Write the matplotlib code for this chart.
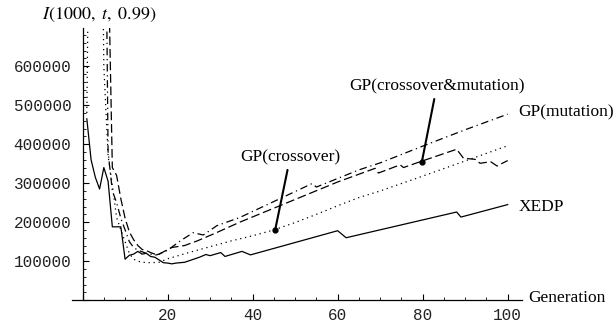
import matplotlib
matplotlib.use("Agg")
import matplotlib.pyplot as plt
from matplotlib.ticker import MultipleLocator, FuncFormatter

plt.rcParams["font.family"] = ["Liberation Serif", "DejaVu Serif"]
plt.rcParams["mathtext.fontset"] = "stix"

# XEDP (solid)
xedp_gen = [1, 2, 3, 4, 5, 6, 7, 9, 10, 11, 12, 13, 14, 15, 16, 17, 18, 19, 20, 21, 22, 24,
            27.5, 29, 30, 32.5, 33.5, 37.5, 39.5, 60, 62, 88, 89, 100]
xedp_val = [465000, 360000, 315000, 285000, 340000, 305000, 188000, 188000, 105000, 115000,
            118000, 125000, 118000, 120000, 112000, 110000, 103000, 96000, 95000, 93000, 95000,
            97000, 110000, 117000, 114000, 122000, 112000, 125000, 116000, 178000, 160000,
            226000, 213000, 245000]

# GP(crossover) (dotted)
cross_gen = [1, 2, 4, 5, 6, 7, 8, 9, 10, 11, 12, 13, 14, 16, 18, 20, 25, 30, 35, 40, 45, 50,
             55, 60, 65, 70, 80, 90, 100]
cross_val = [480000, 1500000, 1500000, 600000, 370000, 295000, 212000, 180000, 150000, 120000,
             105000, 100000, 97000, 96000, 97000, 106000, 122000, 137000, 152000, 165000,
             180000, 199000, 220000, 242000, 263000, 280000, 318000, 357000, 396000]

# GP(crossover&mutation) (dashed)
cm_gen = [5, 6, 7, 8, 9, 10, 11, 12, 13, 14, 15, 16, 17, 18, 21, 24, 27, 31.5, 37, 60, 68.8,
          69.6, 74.7, 75.5, 79.4, 88, 89.6, 92.4, 93.5, 96, 97.5, 100]
cm_val = [1500000, 900000, 340000, 320000, 260000, 210000, 175000, 155000, 140000, 130000,
          127000, 122000, 118000, 118000, 135000, 140000, 152000, 173000, 200000, 303000,
          338000, 326000, 347000, 340000, 355000, 387000, 364000, 361000, 351000, 355000,
          344000, 358000]

# GP(mutation) (dash-dot)
mut_gen = [5, 6, 7, 8, 9, 10, 11, 12, 13, 14, 15, 16, 17, 18, 20, 23, 26, 28.4, 31.6, 37, 54,
           55, 65, 70, 80, 90, 100]
mut_val = [1500000, 380000, 280000, 250000, 210000, 180000, 150000, 135000, 128000, 124000,
           120000, 118000, 115000, 118000, 128000, 152000, 173000, 167000, 191000, 212000,
           299000, 290000, 334000, 352000, 395000, 437000, 477000]

fig = plt.figure(figsize=(6.15, 3.22), dpi=100)
ax = fig.add_axes([0.117, 0.068, 0.732, 0.845])

lw = 0.9
ax.plot(xedp_gen, xedp_val, color="black", lw=lw, linestyle="-")
ax.plot(cross_gen, cross_val, color="black", lw=lw, linestyle=(0, (1, 3)))
ax.plot(cm_gen, cm_val, color="black", lw=lw, linestyle=(0, (7, 3)))
ax.plot(mut_gen, mut_val, color="black", lw=lw, linestyle=(0, (6, 3, 1, 3)))

ax.set_xlim(-2.5, 103.4)
ax.set_ylim(0, 698000)

for s in ["top", "right"]:
    ax.spines[s].set_visible(False)
ax.spines["left"].set_position(("data", 0))
ax.spines["left"].set_linewidth(0.9)
ax.spines["bottom"].set_linewidth(0.9)

ax.xaxis.set_major_locator(MultipleLocator(20))
ax.xaxis.set_minor_locator(MultipleLocator(5))
ax.yaxis.set_major_locator(MultipleLocator(100000))
ax.yaxis.set_minor_locator(MultipleLocator(20000))
ax.xaxis.set_major_formatter(FuncFormatter(lambda v, p: "" if v <= 0 else "%d" % v))
ax.yaxis.set_major_formatter(FuncFormatter(lambda v, p: "" if v <= 0 else "%d" % v))

ax.tick_params(axis="both", which="major", direction="in", length=4, width=0.8,
               labelsize=11.5, labelfontfamily="Liberation Mono", labelcolor="#222222")
ax.tick_params(axis="both", which="minor", direction="in", length=2.2, width=0.6)
ax.tick_params(axis="x", which="major", pad=6)
ax.tick_params(axis="y", which="major", pad=8)

# axis titles
fig.text(99 / 615, 1 - 15 / 322, r"$I(1000,\ t,\ 0.99)$", ha="center", va="center", fontsize=13)
fig.text(528 / 615, 1 - 298 / 322, "Generation", ha="left", va="center", fontsize=12.5)

# series labels
ax.text(102.5, 238000, "XEDP", ha="left", va="center", fontsize=12.5)
ax.text(102.5, 481000, "GP(mutation)", ha="left", va="center", fontsize=12.5)
ax.annotate("GP(crossover)", xy=(45.3, 180000), xytext=(48.8, 365000),
            ha="center", va="center", fontsize=12.5,
            arrowprops=dict(arrowstyle="-", color="black", lw=1.5, shrinkA=1, shrinkB=0))
ax.annotate("GP(crossover&mutation)", xy=(79.8, 354000), xytext=(83.3, 547000),
            ha="center", va="center", fontsize=12.5,
            arrowprops=dict(arrowstyle="-", color="black", lw=1.5, shrinkA=1, shrinkB=0))
ax.plot([45.3, 79.8], [180000, 354000], "o", color="black", ms=3.5, linestyle="none")

fig.savefig("out.png", dpi=100)
